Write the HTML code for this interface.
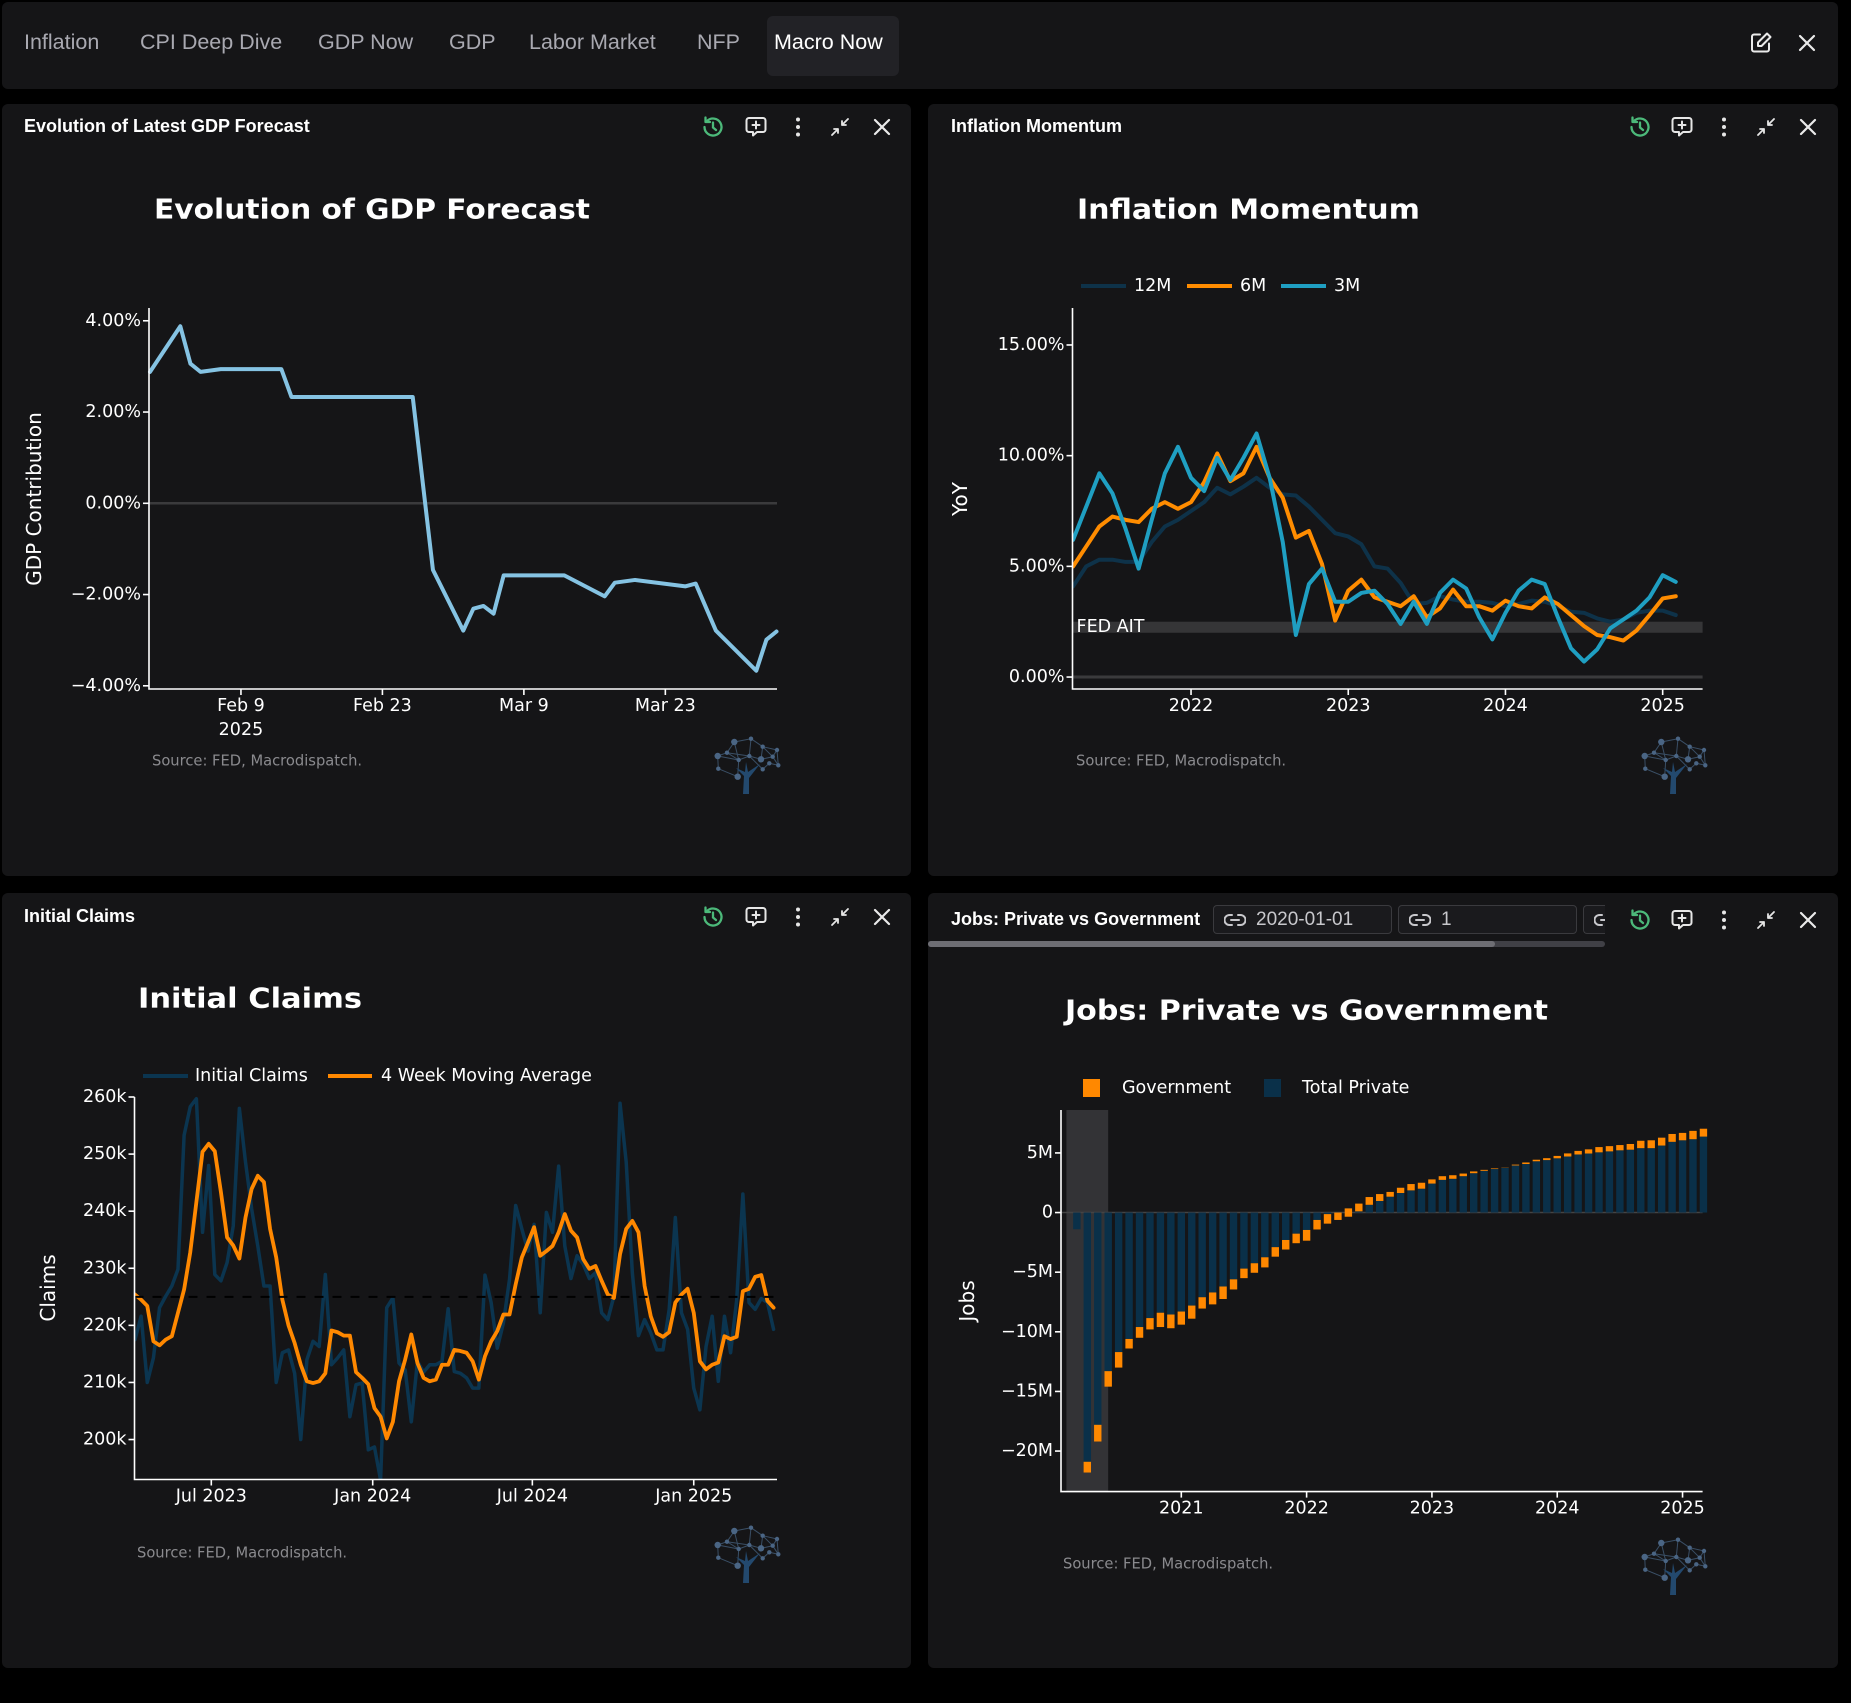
<!DOCTYPE html>
<html><head><meta charset="utf-8"><title>Macro Now</title>
<style>
*{box-sizing:border-box;margin:0;padding:0}
body{background:#000;width:1851px;height:1703px;overflow:hidden;font-family:"Liberation Sans",sans-serif}
#root{position:relative;width:1851px;height:1703px;background:#000}
.nav{position:absolute;left:2px;top:2px;width:1836px;height:87px;background:#151517;border-radius:6px}
.tab{position:absolute;top:28px;font-size:21.5px;color:#a9a9b1;white-space:nowrap}
.tab.active{color:#fff}
.activebg{position:absolute;left:765px;top:14px;width:132px;height:60px;background:#222226;border-radius:6px}
.panel{position:absolute;background:#151517;border-radius:6px}
.ptitle{position:absolute;left:22px;font-size:18px;font-weight:bold;color:#fff;white-space:nowrap}
.ic{position:absolute;width:26px;height:26px}
.box{position:absolute;top:12px;height:29px;border:1px solid #3a3a3e;border-radius:4px;background:#1a1a1d;color:#c8c8cc;font-size:19px;white-space:nowrap;overflow:hidden}
.box span{position:absolute;left:42px;top:3px}
.box svg{position:absolute;left:10px;top:6px}
#charts{position:absolute;left:0;top:0;pointer-events:none}
</style></head><body>
<svg width="0" height="0" style="position:absolute">
<defs>
<symbol id="ic-clock" viewBox="0 0 26 26"><path d="M4.5 13a8.5 8.5 0 1 0 2.5-6" fill="none" stroke="#4cb97a" stroke-width="2.3" stroke-linecap="round"/><path d="M5.5 3.5v4.5h4.5" fill="none" stroke="#4cb97a" stroke-width="2.3" stroke-linecap="round" stroke-linejoin="round"/><path d="M13 8.5v5l3 2.5" fill="none" stroke="#4cb97a" stroke-width="2.3" stroke-linecap="round"/></symbol>
<symbol id="ic-chat" viewBox="0 0 26 26"><path d="M6 4h14a2.5 2.5 0 0 1 2.5 2.5v9a2.5 2.5 0 0 1-2.5 2.5h-6l-4 3.5v-3.5h-4a2.5 2.5 0 0 1-2.5-2.5v-9A2.5 2.5 0 0 1 6 4z" fill="none" stroke="#e6e6e6" stroke-width="2" stroke-linejoin="round"/><path d="M13 7.5v7M9.5 11h7" stroke="#e6e6e6" stroke-width="2" stroke-linecap="round"/></symbol>
<symbol id="ic-dots" viewBox="0 0 26 26"><circle cx="13" cy="5.5" r="2" fill="#e6e6e6"/><circle cx="13" cy="13" r="2" fill="#e6e6e6"/><circle cx="13" cy="20.5" r="2" fill="#e6e6e6"/></symbol>
<symbol id="ic-min" viewBox="0 0 26 26"><path d="M21 5l-6 6M15 7v4h4M5 21l6-6M7 15h4v4" fill="none" stroke="#e6e6e6" stroke-width="1.8" stroke-linecap="round" stroke-linejoin="round"/></symbol>
<symbol id="ic-close" viewBox="0 0 26 26"><path d="M6 6l14 14M20 6L6 20" stroke="#eaeaea" stroke-width="2.2" stroke-linecap="round"/></symbol>
<symbol id="ic-edit" viewBox="0 0 26 26"><path d="M12 4.5H6a2 2 0 0 0-2 2v13a2 2 0 0 0 2 2h13a2 2 0 0 0 2-2v-6" fill="none" stroke="#eaeaea" stroke-width="2" stroke-linecap="round"/><path d="M19 3.5l3.5 3.5-9 9H10v-3.5z" fill="none" stroke="#eaeaea" stroke-width="2" stroke-linejoin="round"/></symbol>
<symbol id="ic-link" viewBox="0 0 22 16"><path d="M8 3H5.5a5 5 0 0 0 0 10H8M14 3h2.5a5 5 0 0 1 0 10H14M7 8h8" fill="none" stroke="#c8c8cc" stroke-width="2" stroke-linecap="round"/></symbol>
</defs></svg>
<div id="root">
 <div class="nav">
  <div class="activebg"></div>
  <span class="tab" style="left:22px">Inflation</span>
  <span class="tab" style="left:138px">CPI Deep Dive</span>
  <span class="tab" style="left:316px">GDP Now</span>
  <span class="tab" style="left:447px">GDP</span>
  <span class="tab" style="left:527px">Labor Market</span>
  <span class="tab" style="left:695px">NFP</span>
  <span class="tab active" style="left:772px">Macro Now</span>
  <svg class="ic" style="left:1746px;top:28px"><use href="#ic-edit"/></svg>
  <svg class="ic" style="left:1792px;top:28px"><use href="#ic-close"/></svg>
 </div>

 <div class="panel" style="left:2px;top:104px;width:909px;height:772px">
  <div class="ptitle" style="top:12px">Evolution of Latest GDP Forecast</div>
  <svg class="ic" style="left:698px;top:10px"><use href="#ic-clock"/></svg>
  <svg class="ic" style="left:741px;top:10px"><use href="#ic-chat"/></svg>
  <svg class="ic" style="left:783px;top:10px"><use href="#ic-dots"/></svg>
  <svg class="ic" style="left:825px;top:10px"><use href="#ic-min"/></svg>
  <svg class="ic" style="left:867px;top:10px"><use href="#ic-close"/></svg>
 </div>

 <div class="panel" style="left:928px;top:104px;width:910px;height:772px">
  <div class="ptitle" style="top:12px;left:23px">Inflation Momentum</div>
  <svg class="ic" style="left:699px;top:10px"><use href="#ic-clock"/></svg>
  <svg class="ic" style="left:741px;top:10px"><use href="#ic-chat"/></svg>
  <svg class="ic" style="left:783px;top:10px"><use href="#ic-dots"/></svg>
  <svg class="ic" style="left:825px;top:10px"><use href="#ic-min"/></svg>
  <svg class="ic" style="left:867px;top:10px"><use href="#ic-close"/></svg>
 </div>

 <div class="panel" style="left:2px;top:893px;width:909px;height:775px">
  <div class="ptitle" style="top:13px">Initial Claims</div>
  <svg class="ic" style="left:698px;top:11px"><use href="#ic-clock"/></svg>
  <svg class="ic" style="left:741px;top:11px"><use href="#ic-chat"/></svg>
  <svg class="ic" style="left:783px;top:11px"><use href="#ic-dots"/></svg>
  <svg class="ic" style="left:825px;top:11px"><use href="#ic-min"/></svg>
  <svg class="ic" style="left:867px;top:11px"><use href="#ic-close"/></svg>
 </div>

 <div class="panel" style="left:928px;top:893px;width:910px;height:775px;overflow:hidden">
  <div class="ptitle" style="top:16px;left:23px">Jobs: Private vs Government</div>
  <div class="box" style="left:285px;width:179px"><svg width="22" height="16"><use href="#ic-link"/></svg><span>2020-01-01</span></div>
  <div class="box" style="left:470px;width:179px"><svg width="22" height="16"><use href="#ic-link"/></svg><span>1</span></div>
  <div class="box" style="left:655px;width:22px;border-right:none;border-radius:4px 0 0 4px"><svg width="22" height="16"><use href="#ic-link"/></svg></div>
  <div style="position:absolute;left:0;top:48px;width:677px;height:6px;background:#404046;border-radius:3px"><div style="width:567px;height:6px;background:#6e6e74;border-radius:3px"></div></div>
  <svg class="ic" style="left:699px;top:14px"><use href="#ic-clock"/></svg>
  <svg class="ic" style="left:741px;top:14px"><use href="#ic-chat"/></svg>
  <svg class="ic" style="left:783px;top:14px"><use href="#ic-dots"/></svg>
  <svg class="ic" style="left:825px;top:14px"><use href="#ic-min"/></svg>
  <svg class="ic" style="left:867px;top:14px"><use href="#ic-close"/></svg>
 </div>

 <svg id="charts" width="1851" height="1703" viewBox="0 0 1851 1703">
  <defs>
   <clipPath id="clipClaims"><rect x="134.5" y="1090" width="643" height="389.5"/></clipPath>
   <clipPath id="clipInfl"><rect x="1072.5" y="300" width="631" height="389"/></clipPath>
  </defs>
 </svg>
</div>
<script>
// ---------- GDP forecast data ----------
const gdpDays = [-9,-6,-5,-4,-2,4,5,17,19,22,23,24,25,26,32,36,37,39,44,45,47,51,52,53];
const gdpValues = [2.88,3.88,3.06,2.88,2.94,2.94,2.33,2.33,-1.46,-2.79,-2.31,-2.25,-2.42,-1.58,-1.58,-2.04,-1.74,-1.68,-1.82,-1.76,-2.79,-3.67,-2.99,-2.81];
const gdpYTicks = [4,2,0,-2,-4];
const gdpYTickLabels = ['4.00%','2.00%','0.00%','\u22122.00%','\u22124.00%'];
const gdpXTicks = [0,14,28,42];
const gdpXTickLabels = ['Feb 9','Feb 23','Mar 9','Mar 23'];

// ---------- Inflation momentum data (monthly from Apr 2021) ----------
const inflStartYear = 2021.25;
const infl12M = [4.1,5.0,5.3,5.3,5.2,5.2,6.1,6.8,7.1,7.5,7.9,8.55,8.25,8.6,9.0,8.55,8.25,8.2,7.7,7.1,6.5,6.35,6.0,5.0,4.9,4.25,3.3,3.35,3.65,3.5,3.4,3.4,3.35,3.2,3.3,3.45,3.4,3.2,2.95,2.9,2.65,2.5,2.6,2.9,3.0,3.0,2.8];
const infl6M = [5.0,5.9,6.8,7.25,7.1,7.0,7.6,7.9,7.6,7.9,8.8,10.1,8.85,9.2,10.4,9.0,8.1,6.3,6.6,5.1,2.55,3.9,4.4,3.6,3.4,3.2,3.65,2.7,3.1,3.95,3.2,3.2,3.0,3.45,3.2,3.1,3.6,3.3,2.8,2.3,1.9,1.8,1.65,2.1,2.8,3.55,3.65];
const infl3M = [6.2,7.7,9.2,8.3,6.7,4.9,7.1,9.2,10.4,9.0,8.4,9.9,8.9,9.9,11.0,9.0,6.1,1.9,4.2,4.9,3.4,3.4,3.8,3.9,3.3,2.4,3.4,2.4,3.8,4.4,4.0,2.7,1.7,2.9,3.9,4.4,4.2,2.7,1.3,0.7,1.25,2.2,2.6,3.0,3.6,4.6,4.3];
const inflYTicks = [0,5,10,15];
const inflYTickLabels = ['0.00%','5.00%','10.00%','15.00%'];
const inflXTicks = [2022,2023,2024,2025];
const inflXTickLabels = ['2022','2023','2024','2025'];
const fedAitBand = [2.0,2.5];

// ---------- Initial claims data (weekly from 2023-04-05), thousands ----------
const claimsStart = '2023-04-05';
const claimsWeekly = [217.5,221.6,210.0,214.3,223.1,225.1,226.9,229.8,253.3,258.3,259.7,236.3,248.0,228.9,227.8,231.0,237.4,258.0,248.6,240.4,233.9,226.9,226.9,210.0,215.2,215.7,211.6,200.0,214.0,217.2,216.3,228.9,213.1,214.3,215.7,204.0,209.6,209.9,198.2,198.7,192.9,223.1,224.8,213.4,212.2,203.1,213.7,211.8,213.1,213.1,213.7,222.9,211.9,211.6,
 210.8,209.0,209.0,228.8,224.0,216.0,220.4,228.1,241.0,236.9,233.0,237.7,222.2,239.8,236.3,247.9,233.9,228.2,232.2,230.7,228.2,229.2,222.2,221.0,225.1,258.9,248.6,229.2,218.2,221.0,218.7,215.7,215.7,222.8,238.9,222.2,219.3,209.0,205.2,216.3,221.6,210.2,221.6,215.2,224.5,243.0,224.0,222.8,224.7,224.0,219.3];
const claimsMA4 = [225.4,224.5,223.4,217.2,216.5,217.5,218.1,222.2,226.3,232.8,241.6,250.4,251.8,250.5,243.3,235.4,234.0,231.7,238.9,243.9,246.2,245.1,236.9,231.9,224.5,220.0,216.9,213.1,210.2,209.9,210.2,211.6,219.1,218.8,218.2,218.2,211.8,210.8,209.7,205.5,204.0,200.2,203.1,210.2,214.0,218.4,213.4,210.8,210.2,210.5,213.1,213.1,215.7,215.5,
 215.2,213.7,210.5,214.6,217.2,219.0,221.9,221.9,227.2,231.9,234.5,237.2,232.2,233.0,233.9,236.3,239.5,236.6,235.4,231.6,229.9,230.4,227.8,225.4,224.8,232.5,236.9,238.3,236.3,226.9,221.6,218.6,218.0,218.8,224.0,225.4,226.4,222.2,213.7,212.3,213.1,213.5,218.1,217.6,218.0,226.0,226.4,228.5,228.8,224.3,223.1];
const claimsRef = 225;
const claimsYTicks = [200,210,220,230,240,250,260];
const claimsYTickLabels = ['200k','210k','220k','230k','240k','250k','260k'];
const claimsXTicks = ['2023-07-01','2024-01-01','2024-07-01','2025-01-01'];
const claimsXTickLabels = ['Jul 2023','Jan 2024','Jul 2024','Jan 2025'];

// ---------- Jobs data (monthly from Mar 2020), millions vs Feb 2020 ----------
const jobsStartYear = 2020 + 2/12;
const jobsPrivate = [-1.4,-20.9,-17.8,-13.3,-11.7,-10.6,-9.6,-8.85,-8.4,-8.55,-8.3,-7.8,-7.1,-6.7,-6.2,-5.6,-4.7,-4.25,-3.75,-2.9,-2.3,-1.77,-1.46,-0.62,-0.13,0.0,0.35,0.1,0.65,0.97,1.33,1.64,1.86,2.0,2.43,2.74,2.83,3.05,3.3,3.5,3.65,3.75,3.95,4.07,4.3,4.4,4.55,4.7,4.87,4.95,5.05,5.13,5.22,5.27,5.4,5.4,5.62,5.93,6.06,6.15,6.37];
const jobsGov = [0,-0.9,-1.4,-1.3,-1.3,-0.8,-0.9,-0.95,-1.2,-1.15,-1.1,-1.1,-0.95,-1.0,-1.05,-0.85,-0.8,-0.8,-0.85,-0.8,-0.8,-0.8,-0.9,-0.8,-0.8,-0.62,-0.7,0.65,0.65,0.58,0.4,0.44,0.53,0.5,0.35,0.31,0.3,0.22,0.15,0.08,0.05,0.02,0.07,0.13,0.13,0.16,0.2,0.26,0.3,0.35,0.44,0.44,0.44,0.48,0.62,0.66,0.66,0.66,0.62,0.7,0.66];
const jobsYTicks = [5,0,-5,-10,-15,-20];
const jobsYTickLabels = ['5M','0','\u22125M','\u221210M','\u221215M','\u221220M'];
const jobsXTicks = [2021,2022,2023,2024,2025];
const jobsXTickLabels = ['2021','2022','2023','2024','2025'];
const recession = [2020 + 1/12, 2020 + 5/12];

const NS = 'http://www.w3.org/2000/svg';
const root = document.getElementById('charts');
const FONT = '"DejaVu Sans", "Liberation Sans", sans-serif';
function mk(parent, tag, attrs, text){
  const e = document.createElementNS(NS, tag);
  for (const k in attrs) e.setAttribute(k, attrs[k]);
  if (text !== undefined) e.textContent = text;
  parent.appendChild(e);
  return e;
}
function lin(d0,d1,r0,r1){ return v => r0 + (v-d0)*(r1-r0)/(d1-d0); }
function group(name){
  const g = mk(root,'g',{});
  
  
  return g;
}
function label(g, x, y, txt, size, anchor, name, extra){
  const t = mk(g,'text',Object.assign({x:x,y:y,'font-size':size,'font-family':FONT,fill:'#fff','text-anchor':anchor,'dominant-baseline':'central'}, extra||{}), txt);
  
  
  return t;
}
function axes(g, L, R, T, B){
  const a = mk(g,'path',{d:`M${L} ${T}V${B}H${R}`,fill:'none',stroke:'#fff','stroke-width':1.6});
  
  
}
function ytick(g, L, y, txt){
  const t = mk(g,'line',{x1:L-6,x2:L,y1:y,y2:y,stroke:'#fff','stroke-width':1.6});
  
  
  label(g, L-8, y, txt, 17.5, 'end', 'y-tick-label');
}
function xtick(g, B, x, txt){
  const t = mk(g,'line',{x1:x,x2:x,y1:B,y2:B+6,stroke:'#fff','stroke-width':1.6});
  
  
  label(g, x, B+17, txt, 17.5, 'middle', 'x-tick-label');
}
function line(g, xs, ys, color, w, name, clip){
  let d = '';
  for (let i=0;i<xs.length;i++) d += (i?'L':'M') + xs[i].toFixed(2) + ' ' + ys[i].toFixed(2);
  const attrs = {d:d,fill:'none',stroke:color,'stroke-width':w,'stroke-linejoin':'round','stroke-linecap':'round'};
  if (clip) attrs['clip-path'] = clip;
  const p = mk(g,'path',attrs);
  
  
  return p;
}
function title(g, x, y, txt, len){
  label(g, x, y, txt, 28, 'start', 'chart-title', {'font-weight':'bold',textLength:len,lengthAdjust:'spacingAndGlyphs'});
}
function source(g, x, y){
  label(g, x, y, 'Source: FED, Macrodispatch.', 14.7, 'start', 'source-note', {fill:'#8a8a8e'});
}
const logoNodes = [[-11.7,-24],[5,-27.3],[16.7,-19.3],[31,-16],[-28.3,-10],[-19,-13.3],[-7.3,-6],[3.3,-10],[15,-6.7],[26.7,-9.3],[32.3,-0.7],[-27.7,2.7],[-8.3,10.7],[16.7,3.3],[23.3,-2.7]];
const logoEdges = [[0,1],[1,2],[2,3],[0,5],[5,4],[4,11],[5,6],[6,7],[7,1],[7,8],[8,2],[8,9],[9,3],[3,10],[9,10],[6,12],[11,12],[0,6],[7,13],[13,14],[14,10],[5,7],[2,9],[4,6]];
function logo(cx, cy){
  const g = mk(root,'g',{transform:`translate(${cx},${cy})`});
  
  
  for (const e of logoEdges){
    const a = logoNodes[e[0]], b = logoNodes[e[1]];
    mk(g,'line',{x1:a[0],y1:a[1],x2:b[0],y2:b[1],stroke:'#3a4f66','stroke-width':1});
  }
  mk(g,'path',{d:'M-3 28L-2 10L-10 2L-1 6L0 -4L2 6L14 -2L3 12L3 28Z',fill:'#23496e'});
  logoNodes.forEach((n,i)=>mk(g,'circle',{cx:n[0],cy:n[1],r:(i%4===0?3.2:2.2),fill:'#4a6584'}));
}

// ===== GDP chart =====
(function(){
  const g = group('gdp-forecast-chart');
  const L=149,R=777,T=308,B=689;
  const x = lin(-9.1,53.05,L,R), y = lin(-4.07,4.28,B,T);
  title(g, 154, 209, 'Evolution of GDP Forecast', 436);
  const z = mk(g,'line',{x1:L,x2:R,y1:y(0),y2:y(0),stroke:'#3a3a3c','stroke-width':2.5});
  
  
  line(g, gdpDays.map(x), gdpValues.map(y), '#85c3e3', 4, 'gdp-forecast-line');
  axes(g, L, R, T, B);
  gdpYTicks.forEach((v,i)=>ytick(g, L, y(v), gdpYTickLabels[i]));
  gdpXTicks.forEach((v,i)=>xtick(g, B, x(v), gdpXTickLabels[i]));
  label(g, x(0), B+41, '2025', 17.5, 'middle', 'x-year-label');
  label(g, 34, 499, 'GDP Contribution', 20, 'middle', 'y-axis-title', {transform:'rotate(-90 34 499)'});
  source(g, 152, 761);
  logo(746, 766);
})();

// ===== Inflation chart =====
(function(){
  const g = group('inflation-momentum-chart');
  const L=1072.5,R=1702.6,T=308,B=689;
  const x = lin(2021.246,2025.254,L,R), y = lin(-0.54,16.67,B,T);
  title(g, 1077, 209, 'Inflation Momentum', 343);
  const band = mk(g,'rect',{x:L,width:R-L,y:y(fedAitBand[1]),height:y(fedAitBand[0])-y(fedAitBand[1]),fill:'#353537'});
  
  
  const z = mk(g,'line',{x1:L,x2:R,y1:y(0),y2:y(0),stroke:'#3a3a3c','stroke-width':3});
  
  
  label(g, L+4, y(2.25), 'FED AIT', 17.5, 'start', 'fed-ait-label');
  const xs = infl12M.map((_,i)=>x(inflStartYear + i/12));
  line(g, xs, infl12M.map(y), '#0e3249', 4, 'series-12m', 'url(#clipInfl)');
  line(g, xs, infl6M.map(y), '#ff8c00', 4, 'series-6m', 'url(#clipInfl)');
  line(g, xs, infl3M.map(y), '#1f9fc2', 4, 'series-3m', 'url(#clipInfl)');
  axes(g, L, R, T, B);
  inflYTicks.forEach((v,i)=>ytick(g, L, y(v), inflYTickLabels[i]));
  inflXTicks.forEach((v,i)=>xtick(g, B, x(v), inflXTickLabels[i]));
  label(g, 960, 499, 'YoY', 20, 'middle', 'y-axis-title', {transform:'rotate(-90 960 499)'});
  const leg = [['#0e3249','12M',1081],['#ff8c00','6M',1187],['#1f9fc2','3M',1281]];
  leg.forEach(l=>{
    const s = mk(g,'line',{x1:l[2],x2:l[2]+45,y1:286,y2:286,stroke:l[0],'stroke-width':4});
    
    
    label(g, l[2]+53, 286, l[1], 17.5, 'start', 'legend-entry');
  });
  source(g, 1076, 761);
  logo(1673, 766);
})();

// ===== Initial claims chart =====
(function(){
  const g = group('initial-claims-chart');
  const L=134.5,R=777,T=1097,B=1479.5;
  const day0 = Date.parse(claimsStart);
  const dayOf = s => (Date.parse(s)-day0)/86400000;
  const x = lin(87,271,211.3,372.7), y = lin(193,260,B,T);
  title(g, 138, 998, 'Initial Claims', 224);
  const xs = claimsWeekly.map((_,i)=>x(i*7));
  line(g, xs, claimsWeekly.map(y), '#0b3550', 3.5, 'initial-claims-line', 'url(#clipClaims)');
  line(g, claimsMA4.map((_,i)=>x(i*7)), claimsMA4.map(y), '#ff8800', 3.8, 'moving-average-line', 'url(#clipClaims)');
  const d = mk(g,'line',{x1:L,x2:R,y1:y(claimsRef),y2:y(claimsRef),stroke:'#000','stroke-width':2,'stroke-dasharray':'9 9'});
  
  
  axes(g, L, R, T, B);
  claimsYTicks.forEach((v,i)=>ytick(g, L, y(v), claimsYTickLabels[i]));
  claimsXTicks.forEach((v,i)=>xtick(g, B, x(dayOf(v)), claimsXTickLabels[i]));
  label(g, 48, 1288, 'Claims', 20, 'middle', 'y-axis-title', {transform:'rotate(-90 48 1288)'});
  const s1 = mk(g,'line',{x1:143,x2:188,y1:1076,y2:1076,stroke:'#0b3550','stroke-width':4});
  
  
  label(g, 195, 1076, 'Initial Claims', 17.5, 'start', 'legend-entry');
  const s2 = mk(g,'line',{x1:328,x2:372,y1:1076,y2:1076,stroke:'#ff8800','stroke-width':4});
  
  
  label(g, 381, 1076, '4 Week Moving Average', 17.5, 'start', 'legend-entry');
  source(g, 137, 1553);
  logo(746, 1555);
})();

// ===== Jobs chart =====
(function(){
  const g = group('jobs-chart');
  const L=1061,R=1702.6,T=1110,B=1491.6;
  const x = lin(2020.04,2025.16,L,R), y = lin(-23.4,8.6,B,T);
  title(g, 1065, 1010, 'Jobs: Private vs Government', 483);
  const sh = mk(g,'rect',{x:x(recession[0]),width:x(recession[1])-x(recession[0]),y:T,height:B-T,fill:'#333336'});
  
  
  const z = mk(g,'line',{x1:L,x2:R,y1:y(0),y2:y(0),stroke:'#444','stroke-width':1.5});
  
  
  const bw = 7.4;
  jobsPrivate.forEach((p,i)=>{
    const cx = x(jobsStartYear + i/12);
    const top = y(Math.max(0,p)), bot = y(Math.min(0,p));
    const r = mk(g,'rect',{x:cx-bw/2,width:bw,y:top,height:Math.max(0.5,bot-top),fill:'#0a3049'});
    
    
    const a = p, b = p + jobsGov[i];
    const gt = y(Math.max(a,b)), gb = y(Math.min(a,b));
    const o = mk(g,'rect',{x:cx-bw/2,width:bw,y:gt,height:gb-gt,fill:'#ff8800'});
    
    
  });
  axes(g, L, R, T, B);
  jobsYTicks.forEach((v,i)=>ytick(g, L, y(v), jobsYTickLabels[i]));
  jobsXTicks.forEach((v,i)=>xtick(g, B, x(v), jobsXTickLabels[i]));
  label(g, 967, 1301, 'Jobs', 20, 'middle', 'y-axis-title', {transform:'rotate(-90 967 1301)'});
  const s1 = mk(g,'rect',{x:1083,y:1079,width:17,height:18,fill:'#ff8800'});
  
  
  label(g, 1122, 1088, 'Government', 17.5, 'start', 'legend-entry');
  const s2 = mk(g,'rect',{x:1264,y:1079,width:17,height:18,fill:'#0a3049'});
  
  
  label(g, 1302, 1088, 'Total Private', 17.5, 'start', 'legend-entry');
  source(g, 1063, 1564);
  logo(1673, 1567);
})();
</script>
</body></html>
